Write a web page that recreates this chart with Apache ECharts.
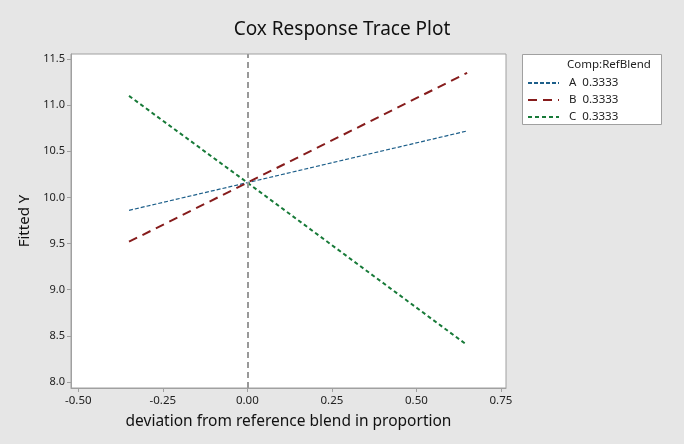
<!DOCTYPE html>
<html>
<head>
<meta charset="utf-8">
<script src="https://cdn.jsdelivr.net/npm/echarts@6/dist/echarts.min.js"></script>
<style>
  html, body { margin: 0; padding: 0; background: #e6e6e6; }
  #chart { width: 684px; height: 444px; }
</style>
</head>
<body>
<div id="chart"></div>
<script>
// deviation from reference blend (x) and fitted Y for each component
const deviation = [-0.35, 0, 0.65]
const compA = [9.86, 10.16, 10.72]
const compB = [9.52, 10.16, 11.35]
const compC = [11.10, 10.16, 8.40]
const seriesNames = ['A  0.3333', 'B  0.3333', 'C  0.3333']
const xTicks = [-0.5, -0.25, 0, 0.25, 0.5, 0.75]
const yTicks = [8.0, 8.5, 9.0, 9.5, 10.0, 10.5, 11.0, 11.5]

const font = '"Noto Sans", "Open Sans", sans-serif'
const axisGrey = '#a0a0a0'

function pairs(ys) {
  return deviation.map((x, i) => [x, ys[i]])
}

const chart = echarts.init(document.getElementById('chart'))
chart.setOption({
  backgroundColor: '#e6e6e6',
  animation: false,
  textStyle: { fontFamily: font },
  title: {
    text: 'Cox Response Trace Plot',
    left: 337,
    top: 15,
    textAlign: 'center',
    textStyle: { fontSize: 19, fontWeight: 'normal', color: '#111', fontFamily: font },
  },
  grid: {
    left: 71, right: 178, top: 54, bottom: 56,
    show: true, backgroundColor: '#fff', borderColor: axisGrey, borderWidth: 1,
  },
  graphic: [
    {
      type: 'rect',
      shape: { x: 522.5, y: 54.5, width: 139, height: 70 },
      style: { fill: '#fff', stroke: axisGrey, lineWidth: 1 },
      z: 0,
    },
    {
      type: 'text',
      left: 567, top: 59,
      style: { text: 'Comp:RefBlend', fontSize: 11.5, fill: '#222', fontFamily: font },
      z: 1,
    },
  ],
  legend: {
    orient: 'vertical',
    left: 527,
    top: 75,
    padding: 0,
    itemWidth: 31,
    itemHeight: 10,
    itemGap: 1,
    selectedMode: false,
    itemStyle: { color: 'transparent', borderWidth: 0 },
    textStyle: { fontSize: 11.5, lineHeight: 16, color: '#222', fontFamily: font, padding: [0, 0, 0, 5] },
    data: seriesNames,
  },
  xAxis: {
    type: 'value',
    min: -0.5216,
    max: 0.765,
    name: 'deviation from reference blend in proportion',
    nameLocation: 'middle',
    nameGap: 26,
    nameTextStyle: { fontSize: 15.5, color: '#111', fontFamily: font },
    axisLine: { show: true, onZero: false, lineStyle: { color: axisGrey } },
    axisTick: { show: true, length: 4, customValues: xTicks, lineStyle: { color: axisGrey } },
    axisLabel: {
      customValues: xTicks, fontSize: 11.5, color: '#222', margin: 7,
      formatter: (v) => v.toFixed(2),
    },
    splitLine: { show: false },
  },
  yAxis: {
    type: 'value',
    min: 7.935,
    max: 11.554,
    name: 'Fitted Y',
    nameLocation: 'middle',
    nameGap: 39,
    nameTextStyle: { fontSize: 15, color: '#111', fontFamily: font },
    axisLine: { show: true, onZero: false, lineStyle: { color: axisGrey } },
    axisTick: { show: true, length: 4, customValues: yTicks, lineStyle: { color: axisGrey } },
    axisLabel: {
      customValues: yTicks, fontSize: 11, color: '#222', margin: 6,
      formatter: (v) => v.toFixed(1),
    },
    splitLine: { show: false },
  },
  series: [
    {
      name: seriesNames[0],
      type: 'line',
      symbol: 'none',
      data: pairs(compA),
      lineStyle: { color: '#1d5f8a', width: 1.2, type: [4, 2] },
      itemStyle: { color: '#1d5f8a' },
      markLine: {
        silent: true,
        symbol: 'none',
        label: { show: false },
        lineStyle: { color: '#999', width: 2, type: [6, 4] },
        data: [{ xAxis: 0 }],
      },
    },
    {
      name: seriesNames[1],
      type: 'line',
      symbol: 'none',
      data: pairs(compB),
      lineStyle: { color: '#861c1c', width: 2, type: [9, 6] },
      itemStyle: { color: '#861c1c' },
    },
    {
      name: seriesNames[2],
      type: 'line',
      symbol: 'none',
      data: pairs(compC),
      lineStyle: { color: '#177a38', width: 2, type: [4, 3] },
      itemStyle: { color: '#177a38' },
    },
  ],
})
</script>
</body>
</html>
